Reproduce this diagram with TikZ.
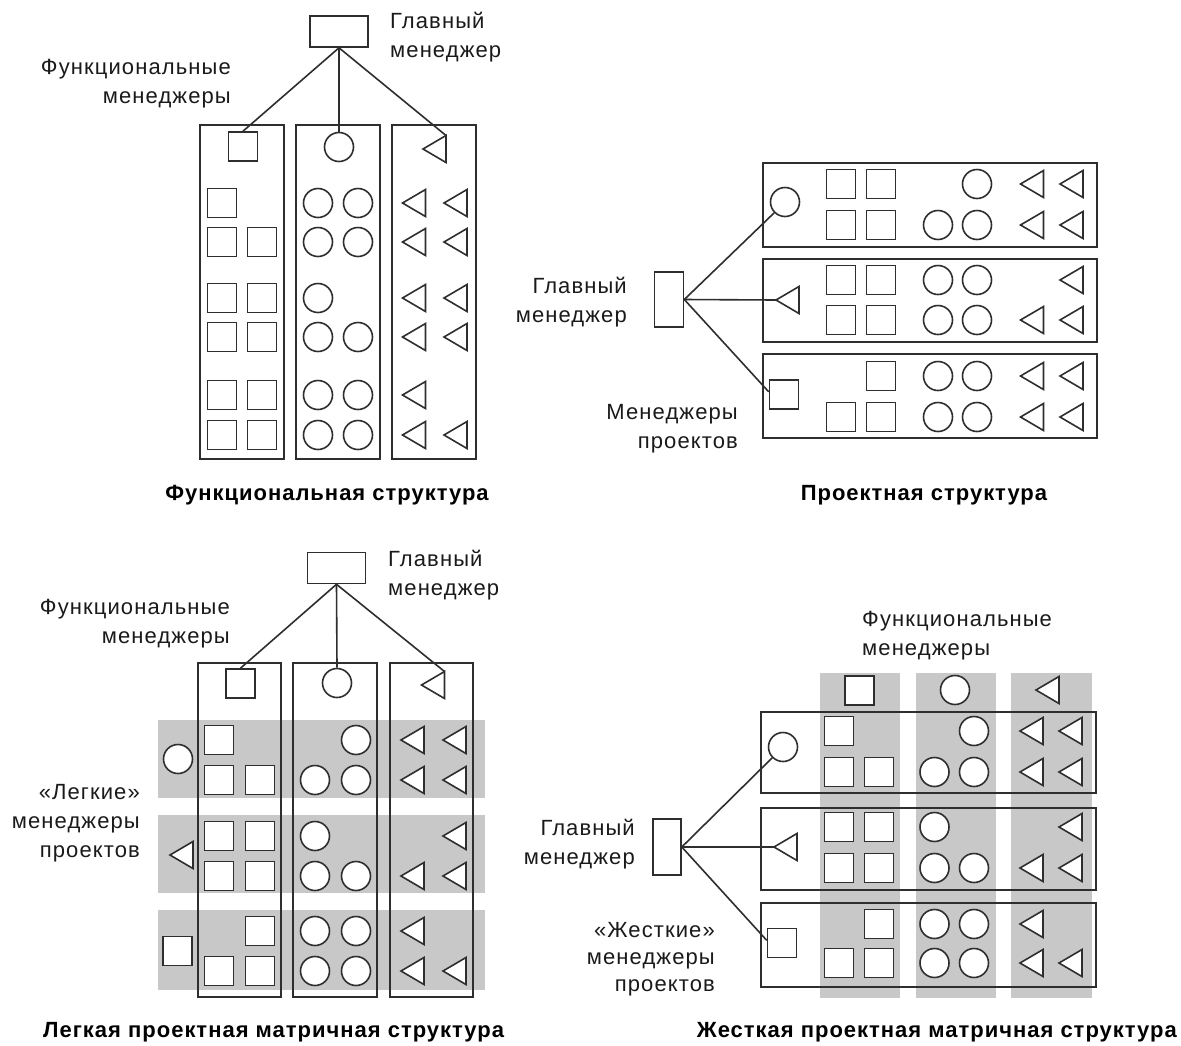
\documentclass[tikz,border=0pt]{standalone}
\usepackage{fontspec}
\setmainfont{Liberation Sans}
\newfontfamily\lblfont[LetterSpace=5]{Liberation Sans}
\newfontfamily\ttlfont[LetterSpace=4.5]{Liberation Sans}
\definecolor{linec}{HTML}{2E2E2E}
\definecolor{txtc}{HTML}{1A1A1A}
\definecolor{bandc}{HTML}{C8C8C8}
% unit shapes: centre x, centre y (y grows downwards)
\newcommand\shpSq[2]{\draw[shp] ({#1-14.5},{#2-14.5}) rectangle ++(29,29);}
\newcommand\shpCi[2]{\draw[shp] (#1,#2) circle[radius=14.5];}
\newcommand\shpTr[2]{\draw[shp,line join=miter] ({#1-11.5},#2) -- ({#1+11.5},{#2-13.5}) -- ({#1+11.5},{#2+13.5}) -- cycle;}
\begin{document}
\begin{tikzpicture}[x=1pt,y=-1pt,
  ln/.style={draw=linec, line width=1.6pt},
  shp/.style={draw=linec, line width=1.6pt, fill=white},
  msq/.style={draw=linec, line width=1.6pt, fill=white, minimum size=29pt, inner sep=0pt},
  mci/.style={circle, draw=linec, line width=1.6pt, fill=white, minimum size=29pt, inner sep=0pt},
  topbox/.style={draw=linec, line width=1.6pt, fill=white, minimum width=58pt, minimum height=31pt, inner sep=0pt},
  sidebox/.style={draw=linec, line width=1.6pt, fill=white, minimum width=29pt, minimum height=55pt, inner sep=0pt},
  lbl/.style={font=\lblfont\fontsize{22}{29}\selectfont, text=txtc, inner sep=0pt},
  ttl/.style={font=\ttlfont\bfseries\fontsize{22}{25}\selectfont, text=black, inner sep=0pt},
  band/.style={fill=bandc, draw=none}]
\useasboundingbox (0,0) rectangle (1181,1045);
\fill[white] (0,0) rectangle (1181,1045);

%% ---------- Функциональная структура ----------
\draw[ln] (200,125) rectangle (284,459);
\draw[ln] (296,125) rectangle (380,459);
\draw[ln] (392,125) rectangle (476,459);
\node[topbox] (q1top) at (339,31.5) {};
\node[msq] (q1fs) at (243,146.5) {};
\node[mci] (q1fc) at (339,147) {};
\shpTr{434.5}{149}
\coordinate (q1ft) at (446,135.5);
\draw[ln] (q1top.south) -- (q1fs.north);
\draw[ln] (q1top.south) -- (q1fc.north);
\draw[ln] (q1top.south) -- (q1ft);
\shpSq{222}{203}
\foreach \y in {242,298,337,395,435} {\shpSq{222}{\y}\shpSq{262}{\y}}
\foreach \y in {203,242,298,337,395,435} {\shpCi{318}{\y}}
\foreach \y in {203,242,337,395,435} {\shpCi{358}{\y}}
\foreach \y in {203,242,298,337,395,435} {\shpTr{414}{\y}}
\foreach \y in {203,242,298,337,435} {\shpTr{455.5}{\y}}
\node[lbl, align=left, anchor=west] (q1mainlbl) at (390,37.5) {Главный\\менеджер};
\node[lbl, align=right, anchor=east] (q1funlbl) at (231,84) {Функциональные\\менеджеры};
\node[ttl] (q1title) at (327,495) {Функциональная структура};

%% ---------- Проектная структура ----------
\draw[ln] (763,163) rectangle (1097,247);
\draw[ln] (763,259) rectangle (1097,342);
\draw[ln] (763,354) rectangle (1097,438);
\node[sidebox] (q2main) at (669,299.5) {};
\node[mci] (q2pc) at (785,202) {};
\shpTr{787.5}{300}
\coordinate (q2pt) at (776,300);
\node[msq] (q2ps) at (784,394.5) {};
\draw[ln] (q2main.east) -- (q2pc.225);
\draw[ln] (q2main.east) -- (q2pt);
\draw[ln] (q2main.east) -- (q2ps.170);
% first project
\shpSq{841}{184}\shpSq{881}{184}\shpCi{977}{184}\shpTr{1032}{184}\shpTr{1071.5}{184}
\shpSq{841}{225}\shpSq{881}{225}\shpCi{938}{225}\shpCi{977}{225}\shpTr{1032}{225}\shpTr{1071.5}{225}
% second project
\shpSq{841}{280}\shpSq{881}{280}\shpCi{938}{280}\shpCi{977}{280}\shpTr{1071.5}{280}
\shpSq{841}{320}\shpSq{881}{320}\shpCi{938}{320}\shpCi{977}{320}\shpTr{1032}{320}\shpTr{1071.5}{320}
% third project
\shpSq{881}{376}\shpCi{938}{376}\shpCi{977}{376}\shpTr{1032}{376}\shpTr{1071.5}{376}
\shpSq{841}{417}\shpSq{881}{417}\shpCi{938}{417}\shpCi{977}{417}\shpTr{1032}{417}\shpTr{1071.5}{417}
\node[lbl, align=right, anchor=east] (q2mainlbl) at (627,302.5) {Главный\\менеджер};
\node[lbl, align=right, anchor=east] (q2prjlbl) at (738,429) {Менеджеры\\проектов};
\node[ttl] (q2title) at (924,495) {Проектная структура};

%% ---------- Легкая проектная матричная структура ----------
\fill[band] (158,720) rectangle (485,798);
\fill[band] (158,815) rectangle (485,893);
\fill[band] (158,910) rectangle (485,990);
\draw[ln] (198,663) rectangle (281,997);
\draw[ln] (293,663) rectangle (377,997);
\draw[ln] (390,663) rectangle (473,997);
\node[topbox] (q3top) at (336.5,568) {};
\node[msq] (q3fs) at (240.5,683.5) {};
\node[mci] (q3fc) at (337,683) {};
\shpTr{433}{685}
\coordinate (q3ft) at (444.5,671.5);
\draw[ln] (q3top.south) -- (q3fs.north);
\draw[ln] (q3top.south) -- (q3fc.north);
\draw[ln] (q3top.south) -- (q3ft);
% light project managers
\node[mci] (q3pc) at (178,759) {};
\shpTr{181.5}{855}
\node[msq] (q3ps) at (177.5,951) {};
% band 1
\shpSq{219}{740}\shpCi{356}{740}\shpTr{412.5}{740}\shpTr{454.5}{740}
\shpSq{219}{780}\shpSq{260}{780}\shpCi{315}{780}\shpCi{356}{780}\shpTr{412.5}{780}\shpTr{454.5}{780}
% band 2
\shpSq{219}{836}\shpSq{260}{836}\shpCi{315}{836}\shpTr{454.5}{836}
\shpSq{219}{876}\shpSq{260}{876}\shpCi{315}{876}\shpCi{356}{876}\shpTr{412.5}{876}\shpTr{454.5}{876}
% band 3
\shpSq{260}{931}\shpCi{315}{931}\shpCi{356}{931}\shpTr{412.5}{931}
\shpSq{219}{971}\shpSq{260}{971}\shpCi{315}{971}\shpCi{356}{971}\shpTr{412.5}{971}\shpTr{454.5}{971}
\node[lbl, align=left, anchor=west] (q3mainlbl) at (388,575) {Главный\\менеджер};
\node[lbl, align=right, anchor=east] (q3funlbl) at (230,624) {Функциональные\\менеджеры};
\node[lbl, align=right, anchor=east] (q3prjlbl) at (140,823) {«Легкие»\\менеджеры\\проектов};
\node[ttl, anchor=west] (q3title) at (43,1032) {Легкая проектная матричная структура};

%% ---------- Жесткая проектная матричная структура ----------
\fill[band] (820,673) rectangle (900,998);
\fill[band] (916,673) rectangle (996,998);
\fill[band] (1011,673) rectangle (1092,998);
\shpSq{859.5}{690.5}\shpCi{955}{690}\shpTr{1047.5}{690}
\draw[ln] (761,712) rectangle (1096,793);
\draw[ln] (761,808) rectangle (1096,890);
\draw[ln] (761,903) rectangle (1096,987);
\node[sidebox, minimum width=28pt, minimum height=56pt] (q4main) at (667,847) {};
\node[mci] (q4pc) at (783,747) {};
\shpTr{785.5}{847}
\coordinate (q4pt) at (774,847);
\node[msq] (q4ps) at (782,943) {};
\draw[ln] (q4main.east) -- (q4pc.225);
\draw[ln] (q4main.east) -- (q4pt);
\draw[ln] (q4main.east) -- (q4ps.170);
% first project
\shpSq{839}{731}\shpCi{974}{731}\shpTr{1031.5}{731}\shpTr{1070.5}{731}
\shpSq{839}{772}\shpSq{879}{772}\shpCi{934.5}{772}\shpCi{974}{772}\shpTr{1031.5}{772}\shpTr{1070.5}{772}
% second project
\shpSq{839}{827}\shpSq{879}{827}\shpCi{934.5}{827}\shpTr{1070.5}{827}
\shpSq{839}{868}\shpSq{879}{868}\shpCi{934.5}{868}\shpCi{974}{868}\shpTr{1031.5}{868}\shpTr{1070.5}{868}
% third project
\shpSq{879}{924}\shpCi{934.5}{924}\shpCi{974}{924}\shpTr{1031.5}{924}
\shpSq{839}{963}\shpSq{879}{963}\shpCi{934.5}{963}\shpCi{974}{963}\shpTr{1031.5}{963}\shpTr{1070.5}{963}
\node[lbl, align=left, anchor=west] (q4funlbl) at (862,636) {Функциональные\\менеджеры};
\node[lbl, align=right, anchor=east] (q4mainlbl) at (635,844) {Главный\\менеджер};
\node[lbl, align=right, anchor=east, font=\lblfont\fontsize{22}{27}\selectfont] (q4prjlbl) at (715,959) {«Жесткие»\\менеджеры\\проектов};
\node[ttl, anchor=east] (q4title) at (1177,1032) {Жесткая проектная матричная структура};
\end{tikzpicture}
\end{document}
